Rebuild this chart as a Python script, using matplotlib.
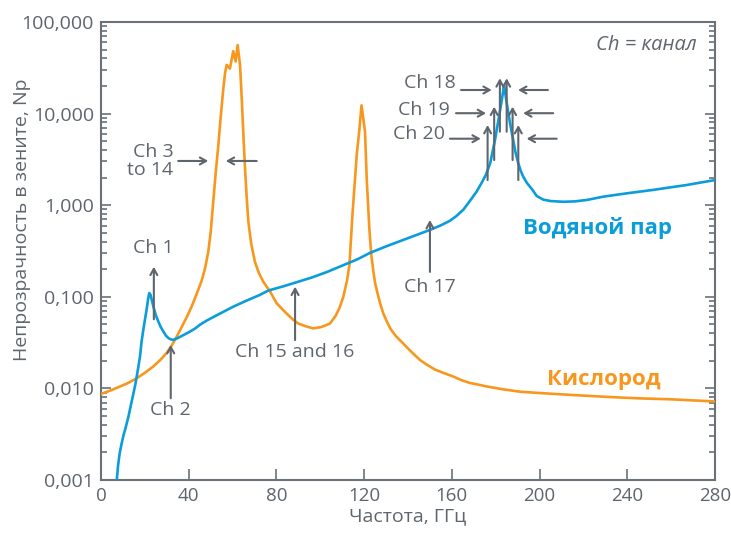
import matplotlib
matplotlib.use("Agg")
import matplotlib.pyplot as plt
from matplotlib import font_manager
from matplotlib.ticker import FixedLocator, FuncFormatter, LogLocator, NullFormatter

# ---------------- data ----------------
freq_h2o = [7.2, 7.8, 8.5, 9.4, 10.3, 11.2, 12.0, 12.5, 13.4, 14.2, 15.0, 15.7, 16.3,
            17.0, 17.8, 18.5, 19.3, 20.1, 20.8, 21.5, 22.0, 22.6, 23.2, 23.9, 25.0,
            26.1, 27.2, 28.4, 29.5, 30.7, 31.8, 33.0, 34.5, 36.0, 38.3, 40.6, 43.0,
            45.1, 48.2, 52.0, 55.0, 60.3, 66.0, 72.5, 76.3, 83.1, 90.7, 96.0, 102.9,
            110.0, 117.0, 122.7, 130.0, 140.0, 150.0, 155.0, 159.1, 162.0, 165.2,
            168.3, 171.3, 173.5, 175.5, 177.5, 179.7, 181.0, 182.3, 183.1, 183.8,
            184.5, 185.3, 186.5, 187.7, 189.0, 190.3, 191.5, 192.6, 194.3, 196.4,
            198.7, 201.7, 205.0, 210.8, 216.0, 221.5, 229.1, 240.0, 251.9, 260.0,
            267.0, 273.0, 280.0]
h2o = [0.0010, 0.00145, 0.00195, 0.0025, 0.0031, 0.0037, 0.0044, 0.0049, 0.0062,
       0.0076, 0.0093, 0.0112, 0.0135, 0.0170, 0.0224, 0.0324, 0.0437, 0.0575, 0.0724,
       0.0955, 0.110, 0.105, 0.091, 0.078, 0.063, 0.054, 0.047, 0.042, 0.038, 0.0355,
       0.0343, 0.0339, 0.0350, 0.0365, 0.0390, 0.0417, 0.0452, 0.0495, 0.0550, 0.0615,
       0.0670, 0.078, 0.090, 0.105, 0.117, 0.130, 0.148, 0.162, 0.186, 0.219, 0.257,
       0.302, 0.355, 0.437, 0.537, 0.603, 0.676, 0.759, 0.891, 1.12, 1.41, 1.74, 2.14,
       2.88, 5.2, 7.9, 12.0, 15.8, 20.4, 15.8, 11.9, 7.9, 5.6, 3.8, 2.86, 2.34, 2.04,
       1.74, 1.51, 1.26, 1.15, 1.11, 1.09, 1.10, 1.14, 1.24, 1.35, 1.47, 1.57, 1.66,
       1.76, 1.88]

freq_o2 = [0, 4.4, 8.7, 12.5, 16.3, 20.0, 23.9, 27.0, 30.0, 32.3, 34.5, 36.8, 39.1,
           41.4, 43.6, 45.9, 47.5, 48.9, 50.0, 51.2, 52.3, 53.5, 54.6, 55.8, 56.6,
           57.3, 58.8, 60.3, 61.4, 62.3, 63.4, 64.0, 64.6, 65.1, 65.7, 66.4, 67.2,
           68.5, 70.2, 72.0, 74.0, 77.1, 80.1, 84.0, 87.7, 90.0, 93.0, 96.8, 100.5,
           104.4, 107.0, 108.8, 110.5, 112.2, 113.3, 114.7, 115.8, 116.6, 117.8, 118.8,
           119.6, 120.4, 121.2, 122.4, 123.3, 124.2, 125.0, 126.0, 127.3, 128.7, 130.3,
           132.0, 134.5, 137.8, 141.5, 145.5, 148.5, 152.0, 156.0, 160.6, 164.0, 168.0,
           172.0, 175.9, 183.0, 191.1, 200.0, 213.9, 230.0, 244.3, 260.0, 280.0]
o2 = [0.0087, 0.0095, 0.0105, 0.0115, 0.0129, 0.0148, 0.0174, 0.0204, 0.0245, 0.0295,
      0.0367, 0.0468, 0.060, 0.079, 0.107, 0.150, 0.207, 0.309, 0.50, 1.10, 2.24, 4.5,
      9.3, 19.0, 28.0, 34.0, 31.0, 48.0, 37.0, 56.0, 34.0, 17.8, 8.9, 4.8, 2.5, 1.26,
      0.66, 0.38, 0.24, 0.182, 0.146, 0.114, 0.085, 0.068, 0.056, 0.051, 0.048, 0.0452,
      0.0468, 0.051, 0.062, 0.076, 0.100, 0.151, 0.224, 0.81, 1.88, 3.5, 6.6, 12.3, 8.9,
      6.3, 1.88, 0.54, 0.28, 0.19, 0.141, 0.112, 0.085, 0.066, 0.054, 0.0447, 0.0372,
      0.0309, 0.0251, 0.0204, 0.0182, 0.0162, 0.0148, 0.0135, 0.0124, 0.0115, 0.0110,
      0.0105, 0.0098, 0.0092, 0.0089, 0.0085, 0.0081, 0.0078, 0.0076, 0.0072]

x_ticks = [0, 40, 80, 120, 160, 200, 240, 280]
y_ticks = [0.001, 0.01, 0.1, 1, 10, 100]

# single channel arrows: (label, x, y_tail, y_head, x_text, y_text)
single_channels = [
    ("Ch 1", 24.1, 0.0568, 0.213, 23.8, 0.341),
    ("Ch 2", 31.8, 0.0078, 0.0298, 31.5, 0.0058),
    ("Ch 15 and 16", 88.5, 0.0337, 0.129, 88.5, 0.0251),
    ("Ch 17", 150.0, 0.187, 0.689, 150.0, 0.129),
]
# vertical arrows at 183 GHz: (x, y_tail, y_head)
vert_arrows = [(176.3, 1.88, 7.5), (179.3, 3.11, 11.9), (181.9, 6.34, 24.3),
               (185.0, 6.34, 24.3), (187.7, 3.11, 11.9), (190.3, 1.88, 7.5)]
# label rows: (label, x_text, y_text, right arrow x0, x1, left arrow x0, x1, y_arrow)
row_labels = [
    ("Ch 18", 161.9, 21.6, 164.2, 178.2, 203.8, 190.2, 18.1),
    ("Ch 19", 159.1, 11.0, 161.9, 175.6, 206.2, 192.5, 10.1),
    ("Ch 20", 156.9, 5.98, 159.1, 173.2, 207.8, 194.1, 5.32),
]

BLUE = "#0a9dd9"
ORANGE = "#f8971d"
GREY = "#5e656d"
SPINE = "#6b7179"

plt.rcParams['font.family'] = ['Open Sans', 'DejaVu Sans']
_names = {f.name for f in font_manager.fontManager.ttflist}
if 'Liberation Sans Narrow' in _names:
    TICKFONT, TICKSIZE = ['Liberation Sans Narrow', 'DejaVu Sans'], 16
else:
    TICKFONT, TICKSIZE = ['Open Sans', 'DejaVu Sans'], 14

fig = plt.figure(figsize=(7.31, 5.35), dpi=100)
ax = fig.add_axes([101 / 731, 1 - 480 / 535, 614 / 731, 458 / 535])

ax.plot(freq_o2, o2, color=ORANGE, lw=1.9, solid_joinstyle='round', zorder=3)
ax.plot(freq_h2o, h2o, color=BLUE, lw=1.9, solid_joinstyle='round', zorder=4)

ax.set_yscale('log')
ax.set_xlim(0, 280)
ax.set_ylim(0.001, 100)

ax.xaxis.set_major_locator(FixedLocator(x_ticks))
ax.yaxis.set_major_locator(FixedLocator(y_ticks))
ax.yaxis.set_minor_locator(LogLocator(base=10, subs=range(2, 10), numticks=20))
ax.yaxis.set_minor_formatter(NullFormatter())
ax.yaxis.set_major_formatter(FuncFormatter(lambda v, p: f"{v:.3f}".replace('.', ',')))

for s in ax.spines.values():
    s.set_color(SPINE)
    s.set_linewidth(1.5)

ax.tick_params(which='both', direction='in', color=SPINE, width=1.2, labelcolor=GREY)
ax.tick_params(axis='y', which='both', right=True, left=True)
ax.tick_params(axis='y', which='major', length=7, pad=5)
ax.tick_params(axis='y', which='minor', length=4)
ax.tick_params(axis='x', which='major', length=8, pad=5)
for lab in ax.get_yticklabels():
    lab.set_fontfamily(TICKFONT)
    lab.set_fontsize(TICKSIZE)
for lab in ax.get_xticklabels():
    lab.set_fontfamily(TICKFONT)
    lab.set_fontsize(TICKSIZE - 0.5)

ax.set_xlabel("Частота, ГГц", fontsize=TICKSIZE, color=GREY, family=TICKFONT, labelpad=2)
fig.text(22 / 731, 1 - 220 / 535, "Непрозрачность в зените, Np", rotation=90,
         ha='center', va='center', fontsize=14, color=GREY)

arrow_kw = dict(arrowstyle='->,head_length=0.45,head_width=0.25', color=GREY, lw=1.5,
                shrinkA=0, shrinkB=0)
TXT = dict(color=GREY, fontsize=14)

for lab, x, y0, y1, xt, yt in single_channels:
    ax.annotate('', xy=(x, y1), xytext=(x, y0), arrowprops=arrow_kw, zorder=5)
    ax.text(xt, yt, lab, ha='center', va='center', **TXT)

ax.annotate('', xy=(48.9, 3.04), xytext=(35.2, 3.04), arrowprops=arrow_kw)
ax.annotate('', xy=(56.9, 3.04), xytext=(71.0, 3.04), arrowprops=arrow_kw)
ax.text(33.0, 3.04, "Ch 3\nto 14", ha='right', va='center', multialignment='right',
        linespacing=1.0, **TXT)

for x, y0, y1 in vert_arrows:
    ax.annotate('', xy=(x, y1), xytext=(x, y0), arrowprops=arrow_kw, zorder=5)
for lab, xt, yt, rx0, rx1, lx0, lx1, ya in row_labels:
    ax.text(xt, yt, lab, ha='right', va='center', **TXT)
    ax.annotate('', xy=(rx1, ya), xytext=(rx0, ya), arrowprops=arrow_kw)
    ax.annotate('', xy=(lx1, ya), xytext=(lx0, ya), arrowprops=arrow_kw)

ax.text(271.6, 56, "Ch = канал", ha='right', va='center', style='italic', color=GREY,
        fontsize=14.5)
ax.text(260.2, 0.56, "Водяной пар", ha='right', va='center', color=BLUE,
        fontsize=16, fontweight='bold')
ax.text(255.1, 0.0124, "Кислород", ha='right', va='center', color=ORANGE,
        fontsize=16, fontweight='bold')

fig.savefig("out.png", dpi=100)
